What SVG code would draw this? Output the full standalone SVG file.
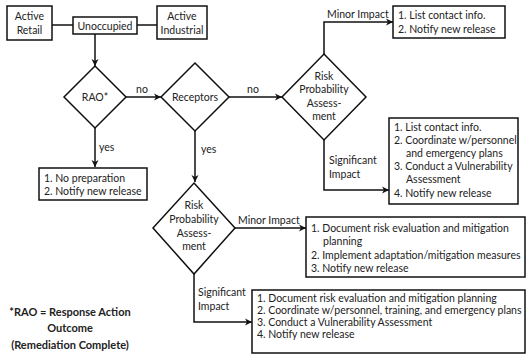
<svg xmlns="http://www.w3.org/2000/svg" width="528" height="357" viewBox="0 0 528 357">
<defs>
<style>
text{font-family:Lato,"Liberation Sans",sans-serif;font-size:10.5px;fill:#222}
.c{text-anchor:middle}
.b{font-weight:bold;font-size:11px}
.box{fill:#fff;stroke:#111;stroke-width:1.5}
.dia{fill:#fff;stroke:#111;stroke-width:1.5}
.ln{fill:none;stroke:#111;stroke-width:1.5}
.ar{fill:none;stroke:#111;stroke-width:1.5;marker-end:url(#ah)}
</style>
<marker id="ah" viewBox="0 0 8 8" refX="7" refY="4" markerWidth="8" markerHeight="8" markerUnits="userSpaceOnUse" orient="auto">
<path d="M0,0.5 L7,4 L0,7.5 L2,4 Z" fill="#111"/>
</marker>
</defs>
<g id="connectors">
<path class="ln" d="M52,25 H73"/>
<path class="ln" d="M137,25 H157"/>
<path class="ar" d="M95,34 V66"/>
<path class="ar" d="M126,97 H161"/>
<path class="ar" d="M95,128 V167"/>
<path class="ar" d="M229,97 H282"/>
<path class="ar" d="M324,54 V22 H393"/>
<path class="ar" d="M324,140 V190 H389"/>
<path class="ar" d="M195,131 V182"/>
<path class="ar" d="M235,228 H306"/>
<path class="ar" d="M194,274 V322 H252"/>
<text class="c" x="142" y="93">no</text>
<text class="c" x="253" y="93">no</text>
<text x="99" y="151">yes</text>
<text x="201" y="153">yes</text>
<text x="327" y="18">Minor Impact</text>
<text x="329" y="164">Significant</text>
<text x="329" y="178">Impact</text>
<text x="238" y="224">Minor Impact</text>
<text x="198" y="296">Significant</text>
<text x="198" y="310">Impact</text>
</g>
<g id="active-retail">
<rect class="box" x="7" y="6" width="45" height="34"/>
<text class="c" x="29.5" y="20">Active</text>
<text class="c" x="29.5" y="34">Retail</text>
</g>
<g id="unoccupied">
<rect class="box" x="73" y="17" width="64" height="17"/>
<text class="c" x="105" y="29.5">Unoccupied</text>
</g>
<g id="active-industrial">
<rect class="box" x="157" y="6" width="50" height="33"/>
<text class="c" x="182" y="20">Active</text>
<text class="c" x="182" y="34">Industrial</text>
</g>
<g id="rao">
<polygon class="dia" points="95,66 126,97 95,128 64,97"/>
<text class="c" x="95" y="101">RAO*</text>
</g>
<g id="receptors">
<polygon class="dia" points="195,63 229,97 195,131 161,97"/>
<text class="c" x="195" y="101">Receptors</text>
</g>
<g id="risk1">
<polygon class="dia" points="324,54 366,97 324,140 282,97"/>
<text class="c" x="324" y="80">Risk</text>
<text class="c" x="324" y="93">Probability</text>
<text class="c" x="324" y="107">Assess-</text>
<text class="c" x="324" y="120">ment</text>
</g>
<g id="risk2">
<polygon class="dia" points="194,183 235,228 194,274 153,228"/>
<text class="c" x="194" y="209">Risk</text>
<text class="c" x="194" y="223">Probability</text>
<text class="c" x="194" y="237">Assess-</text>
<text class="c" x="194" y="250">ment</text>
</g>
<g id="no-prep">
<rect class="box" x="39" y="168" width="108" height="32"/>
<text x="44" y="182">1. No preparation</text>
<text x="44" y="195">2. Notify new release</text>
</g>
<g id="minor1">
<rect class="box" x="393" y="6" width="112" height="32"/>
<text x="398" y="19">1. List contact info.</text>
<text x="398" y="33">2. Notify new release</text>
</g>
<g id="significant1">
<rect class="box" x="389" y="118" width="129" height="86"/>
<text x="394" y="131">1. List contact info.</text>
<text x="394" y="144">2. Coordinate w/personnel</text>
<text x="406" y="157">and emergency  plans</text>
<text x="394" y="170">3. Conduct a Vulnerability</text>
<text x="406" y="183">Assessment</text>
<text x="394" y="197">4. Notify new release</text>
</g>
<g id="minor2">
<rect class="box" x="306" y="217" width="219" height="60"/>
<text x="311" y="232">1. Document risk evaluation and mitigation</text>
<text x="323" y="245">planning</text>
<text x="311" y="259">2. Implement adaptation/mitigation measures</text>
<text x="311" y="272">3. Notify new release</text>
</g>
<g id="significant2">
<rect class="box" x="252" y="290" width="273" height="63"/>
<text x="257" y="302">1. Document risk evaluation and mitigation planning</text>
<text x="257" y="314">2. Coordinate w/personnel, training, and emergency plans</text>
<text x="257" y="326">3. Conduct a Vulnerability Assessment</text>
<text x="257" y="338">4. Notify new release</text>
</g>
<g id="footnote">
<text class="c b" x="70" y="316">*RAO = Response Action</text>
<text class="c b" x="70" y="332">Outcome</text>
<text class="c b" x="70" y="349">(Remediation Complete)</text>
</g>
</svg>
